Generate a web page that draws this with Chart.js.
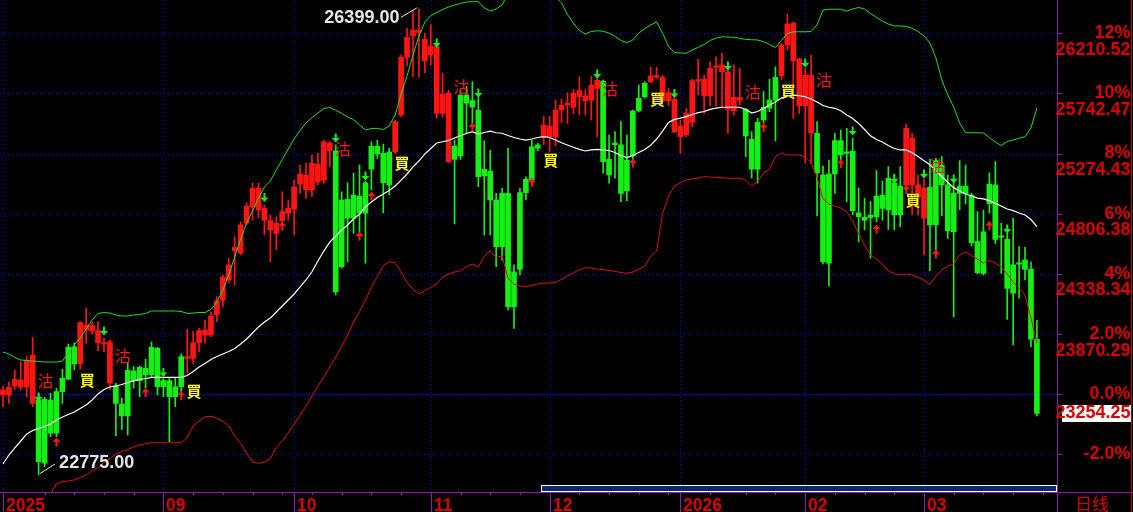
<!DOCTYPE html>
<html>
<head>
<meta charset="utf-8">
<script src="https://cdn.jsdelivr.net/npm/chart.js@4/dist/chart.umd.min.js"></script>
<style>
  html, body { margin: 0; padding: 0; background: #000; overflow: hidden; }
</style>
</head>
<body>
<canvas id="myChart" width="1133" height="512"></canvas>
<script>
// axis / tick data
const base = 23402.246;
const pctValues = [12, 10, 8, 6, 4, 2, 0, -2];
const pctLabels = ['12%', '10%', '8%', '6%', '4%', '2.0%', '0.0%', '-2.0%'];
const priceLabels = ['26210.52', '25742.47', '25274.43', '24806.38', '24338.34', '23870.29', '', ''];
const months = ['2025', '09', '10', '11', '12', '2026', '02', '03'];
const monthStart = [0, 27, 49, 72, 92, 114, 135, 155];
const weekTicks = [7, 12, 17, 22, 32, 37, 42, 47, 52, 57, 62, 67, 77, 82, 87, 97, 102, 107, 112, 119, 125, 130, 140, 145, 150, 160, 165, 170, 175];
const slotCount = 178;

// candles
const open = [23397,23397,23467,23457,23457,23332,23358,23363,23358,23423,
  23527,23768,23772,23638,23902,23897,23803,23793,23488,23467,
  23327,23591,23583,23612,23604,23768,23760,23508,23508,23461,
  23695,23682,23682,23803,23863,23863,24019,24135,24291,24519,
  24499,24732,24861,24835,24757,24680,24654,24752,24810,24841,
  25037,24991,24991,25055,25068,25296,25296,24913,24918,24952,
  24944,25047,25333,25333,25276,25286,25288,25574,26022,26188,
  26215,25996,26040,25587,25587,25211,25333,25729,25729,25685,
  25613,25152,25138,24913,24965,24965,24355,24970,25074,25327,
  25341,25400,25405,25405,25613,25655,25634,25716,25685,25690,
  25781,25838,25229,25352,25341,25224,25605,25704,25820,25833,
  25868,25685,25685,25444,25405,25418,25530,25837,25722,25722,
  25945,25910,25618,25607,25690,25618,25385,25517,25634,25690,
  25867,25877,26118,25996,25644,25644,25432,25432,25107,25115,
  25374,25374,25288,25294,24814,24778,24796,24944,24952,25082,
  25047,25022,25030,25030,24939,24771,25012,25219,25185,25030,
  24965,25022,25022,24952,24589,24666,25037,25030,24633,24607,
  24408,24423,24446,24374,23830];
const high = [23467,23500,23591,23656,23695,23845,23397,23379,23410,23449,
  23597,23793,23803,23967,24071,23964,23967,23840,23824,23488,
  23371,23643,23617,23622,23674,23811,23768,23534,23534,23534,
  23716,23908,23889,23915,23980,24044,24161,24330,24462,24628,
  24744,24890,25045,25045,24874,24796,24783,24977,24913,25068,
  25185,25198,25263,25276,25379,25366,25341,24977,25047,25121,
  25185,25060,25366,25379,25348,25315,25535,26040,26248,26382,
  26399,26209,26274,26131,25898,25768,25379,25768,25794,25833,
  25716,25374,25302,24965,25004,25315,24408,25004,25094,25379,
  25354,25561,25561,25690,25698,25747,25774,25872,25768,25872,
  25869,25846,25418,25444,25522,25418,25613,25807,25833,25949,
  25945,25885,25784,25755,25535,25626,25851,26007,25885,25988,
  26027,26054,25940,25963,25937,25626,25444,25548,25755,25851,
  25949,26131,26359,26299,26015,25939,26040,25522,25177,25224,
  25432,25457,25470,25395,25004,24926,24900,25141,25061,25172,
  25115,25172,25504,25432,25107,25076,25229,25237,25250,25107,
  25045,25219,25185,24965,24822,24835,25125,25211,24732,24656,
  24771,24550,24545,24433,23980];
const low = [23304,23332,23441,23436,23379,23306,22775,22839,23073,23073,
  23332,23513,23591,23597,23799,23871,23741,23731,23441,23078,
  23130,23086,23449,23384,23451,23534,23397,23384,23034,23306,
  23410,23566,23643,23733,23799,23850,23967,24081,24268,24252,
  24485,24719,24757,24773,24641,24433,24524,24734,24757,24641,
  24965,24926,24939,25030,25043,25172,24174,24382,24433,24654,
  24666,24421,24991,25237,24814,24952,25276,25561,25955,25872,
  25867,25903,25963,25548,25556,25203,24726,25229,25432,25512,
  25016,24641,24641,24394,24446,24058,23915,24330,24913,25030,
  25296,25341,25288,25335,25514,25509,25582,25574,25574,25535,
  25405,25121,25043,25082,24900,24908,25224,25597,25704,25825,
  25859,25677,25644,25436,25276,25405,25527,25729,25587,25644,
  25644,25638,25432,25574,25652,25250,25082,25043,25512,25599,
  25374,25846,26079,25550,25587,25201,25198,24789,24415,24244,
  24965,25224,24900,24796,24589,24680,24460,24744,24757,24685,
  24680,24705,24991,24796,24796,24485,24363,24511,24789,24615,
  24006,24835,24882,24555,24338,24330,24810,24576,24343,23985,
  23786,24149,24291,23772,23234];
const close = [23436,23457,23519,23513,23669,23708,22878,22866,23099,23099,
  23423,23519,23638,23959,23941,23939,23897,23805,23811,23332,
  23234,23234,23508,23508,23552,23552,23461,23461,23384,23384,
  23461,23695,23803,23897,23902,24011,24128,24314,24408,24545,
  24719,24866,25004,25006,24848,24752,24732,24822,24848,25016,
  25115,25107,25198,25193,25366,25358,24200,24394,24771,24771,
  24810,24810,25152,25271,25047,25030,25522,26022,26178,26235,
  26235,26162,26110,26105,25737,25747,25229,25255,25665,25634,
  25094,25100,24913,24550,24550,24083,24083,24374,24970,25068,
  25315,25496,25488,25613,25649,25663,25743,25763,25722,25807,
  25846,25211,25107,25344,24965,24985,25255,25607,25716,25877,
  25876,25867,25747,25696,25488,25587,25841,25844,25851,25937,
  25953,25963,25910,25711,25711,25411,25152,25152,25535,25626,
  25690,26118,26281,26287,26007,25885,25885,25125,24433,24421,
  25115,25263,25276,24830,24783,24757,24778,24783,24848,24835,
  24796,24796,25470,25393,25030,25004,24719,24719,25030,24674,
  24666,24965,24960,24581,24348,24343,24882,24607,24623,24226,
  24188,24413,24374,23830,23254.25];

// bollinger bands
const bollMid = [22860,22930,22985,23039,23094,23121,23136,23152,23171,23202,
  23226,23245,23265,23292,23319,23358,23405,23440,23459,23467,
  23478,23494,23506,23517,23525,23533,23534,23534,23534,23534,
  23534,23548,23580,23615,23642,23673,23696,23716,23735,23758,
  23793,23832,23879,23926,23964,23996,24042,24089,24135,24182,
  24237,24291,24355,24439,24516,24586,24633,24680,24719,24765,
  24804,24859,24897,24932,24960,24987,25022,25068,25115,25170,
  25216,25271,25313,25356,25366,25376,25395,25414,25430,25444,
  25426,25438,25449,25436,25432,25414,25399,25387,25379,25387,
  25399,25405,25399,25379,25358,25341,25323,25307,25294,25302,
  25306,25302,25298,25282,25259,25243,25259,25282,25306,25338,
  25387,25449,25516,25540,25550,25561,25578,25592,25601,25617,
  25628,25634,25634,25634,25634,25617,25589,25601,25626,25652,
  25675,25706,25722,25729,25725,25716,25698,25675,25648,25634,
  25626,25607,25574,25547,25508,25461,25413,25383,25364,25337,
  25313,25302,25302,25281,25251,25219,25187,25141,25094,25051,
  25009,24983,24960,24944,24928,24921,24908,24887,24866,24843,
  24830,24812,24796,24761,24705];
const bollUp = [23731,23716,23688,23669,23665,23661,23657,23653,23653,23653,
  23661,23723,23786,23840,23910,23980,24031,24038,24034,24019,
  24011,24011,24019,24023,24031,24050,24050,24050,24050,24050,
  24046,24031,24034,24038,24038,24062,24120,24213,24330,24470,
  24610,24734,24827,24928,25014,25061,25146,25228,25309,25387,
  25453,25512,25554,25589,25624,25632,25610,25587,25558,25539,
  25496,25457,25469,25470,25461,25488,25574,25737,25877,26040,
  26188,26297,26347,26371,26394,26414,26429,26441,26452,26455,
  26455,26406,26382,26398,26429,26522,26538,26530,26522,26522,
  26538,26546,26530,26491,26445,26355,26289,26231,26204,26223,
  26229,26225,26211,26184,26153,26136,26157,26211,26246,26274,
  26297,26211,26106,26060,26056,26054,26079,26100,26122,26153,
  26172,26182,26180,26178,26170,26162,26159,26157,26144,26122,
  26099,26153,26207,26221,26221,26221,26223,26274,26390,26396,
  26396,26396,26382,26398,26410,26398,26363,26332,26305,26281,
  26266,26266,26263,26248,26223,26188,26134,26017,25846,25729,
  25636,25512,25436,25436,25436,25434,25399,25364,25337,25368,
  25379,25393,25405,25473,25628];
const bollDn = [22269,22347,22425,22487,22542,22580,22604,22612,22627,22705,
  22724,22728,22736,22755,22775,22806,22832,22872,22903,22938,
  22956,22973,22993,23008,23018,23026,23026,23026,23026,23026,
  23026,23063,23156,23195,23228,23231,23218,23192,23156,23078,
  23020,22944,22878,22864,22874,22903,22990,23039,23101,23171,
  23241,23311,23389,23467,23537,23615,23692,23778,23863,23964,
  24044,24135,24234,24317,24400,24433,24425,24355,24270,24219,
  24182,24208,24234,24260,24312,24338,24353,24363,24394,24415,
  24394,24472,24519,24467,24478,24304,24258,24244,24239,24248,
  24260,24265,24268,24272,24296,24322,24348,24370,24386,24384,
  24376,24371,24366,24357,24349,24343,24353,24373,24400,24474,
  24516,24804,24944,25022,25047,25068,25076,25084,25094,25092,
  25089,25086,25082,25082,25082,25066,25022,25057,25121,25154,
  25250,25278,25263,25263,25263,25247,25205,25092,24921,24882,
  24866,24851,24822,24750,24654,24563,24485,24454,24415,24361,
  24341,24330,24338,24330,24310,24291,24256,24322,24369,24400,
  24415,24488,24509,24481,24454,24423,24446,24421,24394,24338,
  24275,24229,24174,23996,23801];

// signals: [candle index, price level]
const sellSignals = [[7,23506],[20,23700],[57,25310],[77,25792],[102,25776],[126,25753],[138,25846],[157,25178]];
const buySignals = [[14,23513],[32,23428],[67,25201],[92,25225],[110,25698],[132,25760],[153,24913]];
const downArrows = [[6,23381],[17,23894],[27,23572],[44,24932],[56,25395],[61,25100],[73,26133],[80,25745],[100,25892],[113,25741],[122,25955],[135,25978],[143,25450],[150,25077],[155,25116],[160,25077],[169,24687]];
const upArrows = [[9,23031],[24,23416],[30,23393],[47,24711],[60,24633],[62,24944],[79,25480],[89,25049],[106,25200],[116,25515],[128,25476],[141,25196],[147,24687],[152,24994],[157,24493],[166,24714]];

const RED = '#ff1414';
const GREEN = '#14f014';
const LABEL_RED = '#dc0000';
const PURPLE = '#8c1cac';
const GRID_BLUE = '#0000e6';
const labelFont = 'bold 18px "Liberation Sans", Arial, sans-serif';

const candleColors = close.map((c, i) => c >= open[i] ? RED : GREEN);
const slots = Array.from({ length: slotCount }, (_, i) => String(i));

function arrow(c, px, py, dir, color) {
    // dir 1 points down, -1 points up
    c.fillStyle = color;
    c.beginPath();
    c.moveTo(px - 1, py - 4.5 * dir);
    c.lineTo(px + 1, py - 4.5 * dir);
    c.lineTo(px + 1, py);
    c.lineTo(px + 4, py);
    c.lineTo(px, py + 4.5 * dir);
    c.lineTo(px - 4, py);
    c.lineTo(px - 1, py);
    c.closePath();
    c.fill();
}

const deco = {
    id: 'deco',
    beforeDraw(chart) {
        const c = chart.ctx;
        c.save();
        c.fillStyle = '#000';
        c.fillRect(0, 0, chart.width, chart.height);
        c.restore();
    },
    beforeDatasetsDraw(chart) {
        const { ctx: c, chartArea: a, scales: { x, y } } = chart;
        c.save();
        c.lineWidth = 1;
        pctValues.forEach(p => {
            const py = Math.round(y.getPixelForValue(base * (1 + p / 100))) + 0.5;
            c.strokeStyle = GRID_BLUE;
            c.setLineDash(p === 0 ? [2, 1] : [1, 3]);
            c.beginPath();
            c.moveTo(a.left, py);
            c.lineTo(a.right - 3, py);
            c.stroke();
        });
        c.setLineDash([1, 3]);
        monthStart.forEach(i => {
            const px = Math.round(x.getPixelForValue(i)) + 0.5;
            c.beginPath();
            c.moveTo(px, a.top);
            c.lineTo(px, a.bottom);
            c.stroke();
        });
        c.restore();
    },
    afterDatasetsDraw(chart) {
        const { ctx: c, scales: { x, y } } = chart;
        c.save();
        downArrows.forEach(([i, v]) => arrow(c, x.getPixelForValue(i), y.getPixelForValue(v), 1, GREEN));
        upArrows.forEach(([i, v]) => arrow(c, x.getPixelForValue(i), y.getPixelForValue(v), -1, RED));

        c.textAlign = 'center';
        c.textBaseline = 'middle';
        c.font = '16px "Noto Sans CJK TC"';
        c.fillStyle = RED;
        sellSignals.forEach(([i, v]) => c.fillText('沽', x.getPixelForValue(i) + 1, y.getPixelForValue(v)));
        c.font = 'bold 15px "Noto Sans CJK TC"';
        c.fillStyle = '#ffff00';
        buySignals.forEach(([i, v]) => c.fillText('買', x.getPixelForValue(i) + 1, y.getPixelForValue(v)));

        // highest / lowest markers
        const hiIdx = high.indexOf(Math.max(...high));
        const loIdx = low.indexOf(Math.min(...low));
        const hx = x.getPixelForValue(hiIdx), hy = y.getPixelForValue(high[hiIdx]);
        const lx = x.getPixelForValue(loIdx), ly = y.getPixelForValue(low[loIdx]);
        c.strokeStyle = '#e6e6e6';
        c.lineWidth = 1;
        c.beginPath();
        c.moveTo(hx - 18, hy + 8.5);
        c.lineTo(hx - 2, hy - 1);
        c.moveTo(lx + 1.5, ly - 1.5);
        c.lineTo(lx + 16.5, ly - 11);
        c.stroke();
        c.font = labelFont;
        c.fillStyle = '#e6e6e6';
        c.textAlign = 'right';
        c.fillText(high[hiIdx].toFixed(2), hx - 19.5, hy + 9.5);
        c.textAlign = 'left';
        c.fillText(low[loIdx].toFixed(2), lx + 20.5, ly - 12);
        c.restore();
    },
    afterDraw(chart) {
        const { ctx: c, chartArea: a, scales: { x, y } } = chart;
        const W = chart.width, H = chart.height;
        const axisX = Math.round(a.right) - 0.5;
        c.save();
        // scroll bar
        c.fillStyle = '#0b2a6c';
        c.fillRect(542, 486, 514, 5);
        c.strokeStyle = '#ffffff';
        c.lineWidth = 1;
        c.strokeRect(541.5, 485.5, 515, 6);

        // axes
        c.strokeStyle = PURPLE;
        c.beginPath();
        c.moveTo(0, a.bottom + 0.5);
        c.lineTo(W, a.bottom + 0.5);
        c.moveTo(axisX, 0);
        c.lineTo(axisX, H);
        pctValues.forEach(p => {
            const py = Math.round(y.getPixelForValue(base * (1 + p / 100))) + 0.5;
            c.moveTo(axisX - 1, py);
            c.lineTo(axisX + 5, py);
        });
        weekTicks.forEach(i => {
            const px = Math.round(x.getPixelForValue(i)) + 0.5;
            c.moveTo(px, a.bottom);
            c.lineTo(px, a.bottom + 3);
        });
        monthStart.forEach(i => {
            const px = Math.round(x.getPixelForValue(i)) + 0.5;
            c.moveTo(px, a.bottom);
            c.lineTo(px, H);
        });
        c.stroke();
        c.strokeStyle = '#c80000';
        c.beginPath();
        c.moveTo(W - 1.5, 0);
        c.lineTo(W - 1.5, H);
        c.stroke();

        // right labels
        c.font = labelFont;
        c.fillStyle = LABEL_RED;
        c.textAlign = 'right';
        c.textBaseline = 'middle';
        pctValues.forEach((p, k) => {
            const py = y.getPixelForValue(base * (1 + p / 100));
            c.fillText(pctLabels[k], W - 2.5, py);
            if (priceLabels[k]) c.fillText(priceLabels[k], W - 2.5, py + 16.5);
        });
        const last = close[close.length - 1];
        const lp = y.getPixelForValue(last);
        c.fillStyle = '#ffffff';
        c.fillRect(1062, Math.round(lp) - 8, 69, 17);
        c.fillStyle = LABEL_RED;
        c.fillText(last.toFixed(2), W - 2.5, lp);

        // bottom labels
        c.font = 'bold 17.5px "Liberation Sans", Arial, sans-serif';
        c.textAlign = 'left';
        c.textBaseline = 'alphabetic';
        monthStart.forEach((i, k) => {
            c.fillText(months[k], Math.round(x.getPixelForValue(i)) + 3, 511);
        });
        c.font = '17px "Noto Sans CJK SC"';
        c.fillText('日线', 1075, 510);
        c.restore();
    }
};

const data = {
    labels: slots,
    datasets: [
        { type: 'line', label: 'MID', data: bollMid, borderColor: '#ffffff', borderWidth: 1.2, pointRadius: 0, tension: 0, order: 0 },
        { type: 'line', label: 'UP', data: bollUp, borderColor: '#20e020', borderWidth: 1, pointRadius: 0, tension: 0, order: 0 },
        { type: 'line', label: 'DN', data: bollDn, borderColor: '#e01010', borderWidth: 1, pointRadius: 0, tension: 0, order: 0 },
        { type: 'bar', label: 'body', data: open.map((o, i) => [o, close[i]]), backgroundColor: candleColors,
          barThickness: 5, minBarLength: 1.5, grouped: false, borderWidth: 0, order: 1 },
        { type: 'bar', label: 'wick', data: low.map((l, i) => [l, high[i]]), backgroundColor: candleColors,
          barThickness: 1, grouped: false, borderWidth: 0, order: 2 }
    ]
};

const config = {
    type: 'bar',
    data: data,
    options: {
        responsive: false,
        animation: false,
        events: [],
        layout: { padding: { left: 0, top: 0, right: 75.3, bottom: 20 } },
        scales: {
            x: { type: 'category', offset: true, display: false },
            y: { type: 'linear', display: false, min: 22642.5, max: 26468 }
        },
        plugins: {
            legend: { display: false },
            tooltip: { enabled: false }
        }
    },
    plugins: [deco]
};

const myChart = new Chart(document.getElementById('myChart'), config);
</script>
</body>
</html>
